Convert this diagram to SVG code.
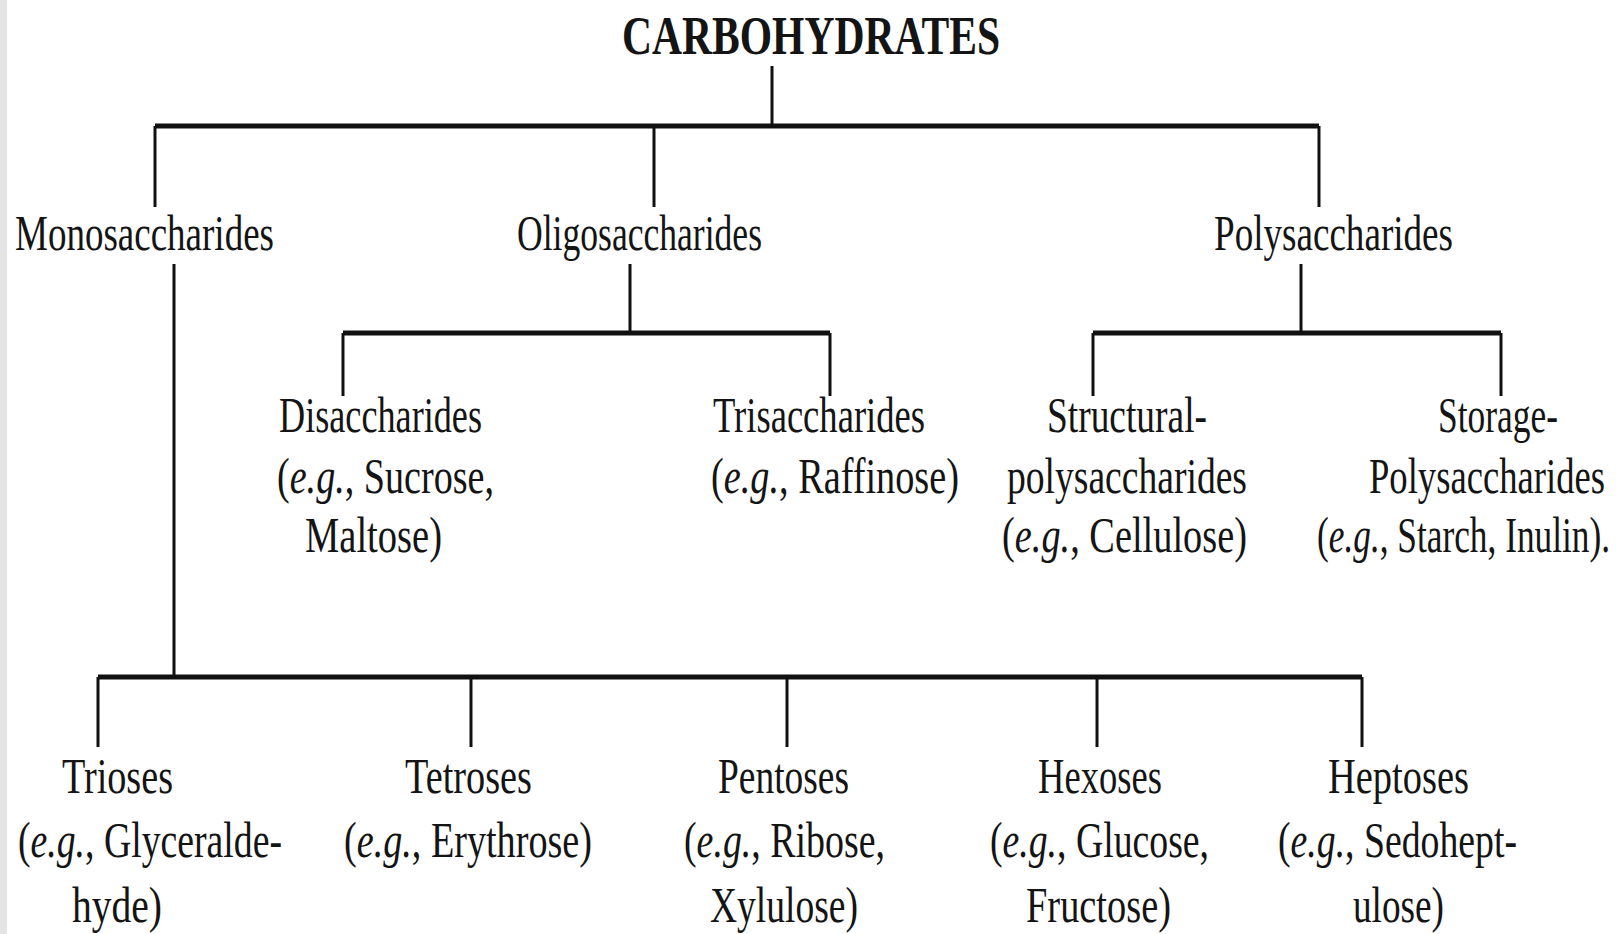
<svg xmlns="http://www.w3.org/2000/svg" width="1620" height="934" viewBox="0 0 1620 934">
<style>
text{font-family:"Liberation Serif","Times New Roman",serif;font-size:50px;fill:#141414}
.title{font-weight:bold;font-size:54px}
.i{font-style:italic}
.bar{stroke:#111;stroke-width:5;fill:none}
.v{stroke:#111;stroke-width:3;fill:none}
</style>
<rect x="0" y="0" width="1620" height="934" fill="#ffffff"/>
<rect x="0" y="0" width="7" height="934" fill="#e4e4e4"/>
<g id="connectors">
<line class="v" x1="772" y1="66" x2="772" y2="126"/>
<line class="bar" x1="155" y1="126" x2="1319" y2="126"/>
<line class="v" x1="155" y1="126" x2="155" y2="207"/>
<line class="v" x1="654" y1="126" x2="654" y2="207"/>
<line class="v" x1="1319" y1="126" x2="1319" y2="207"/>
<line class="v" x1="174" y1="264" x2="174" y2="677"/>
<line class="v" x1="630" y1="264" x2="630" y2="333"/>
<line class="bar" x1="343" y1="333" x2="830" y2="333"/>
<line class="v" x1="343" y1="333" x2="343" y2="396"/>
<line class="v" x1="830" y1="333" x2="830" y2="396"/>
<line class="v" x1="1301" y1="264" x2="1301" y2="333"/>
<line class="bar" x1="1093" y1="333" x2="1501" y2="333"/>
<line class="v" x1="1093" y1="333" x2="1093" y2="396"/>
<line class="v" x1="1501" y1="333" x2="1501" y2="396"/>
<line class="bar" x1="98" y1="677" x2="1362" y2="677"/>
<line class="v" x1="98" y1="677" x2="98" y2="747"/>
<line class="v" x1="471" y1="677" x2="471" y2="747"/>
<line class="v" x1="787" y1="677" x2="787" y2="747"/>
<line class="v" x1="1097" y1="677" x2="1097" y2="747"/>
<line class="v" x1="1362" y1="677" x2="1362" y2="747"/>
</g>
<g id="carbohydrates"><text class="title" x="622" y="54" textLength="378" lengthAdjust="spacingAndGlyphs">CARBOHYDRATES</text></g>
<g id="monosaccharides"><text x="15" y="250" textLength="259" lengthAdjust="spacingAndGlyphs">Monosaccharides</text></g>
<g id="oligosaccharides"><text x="517" y="250" textLength="245" lengthAdjust="spacingAndGlyphs">Oligosaccharides</text></g>
<g id="polysaccharides"><text x="1214" y="250" textLength="239" lengthAdjust="spacingAndGlyphs">Polysaccharides</text></g>
<g id="disaccharides">
<text x="279" y="432" textLength="203" lengthAdjust="spacingAndGlyphs">Disaccharides</text>
<text x="277" y="493" textLength="217" lengthAdjust="spacingAndGlyphs">(<tspan class="i">e.g.</tspan>, Sucrose,</text>
<text x="305" y="552" textLength="137" lengthAdjust="spacingAndGlyphs">Maltose)</text>
</g>
<g id="trisaccharides">
<text x="713" y="432" textLength="212" lengthAdjust="spacingAndGlyphs">Trisaccharides</text>
<text x="711" y="493" textLength="248" lengthAdjust="spacingAndGlyphs">(<tspan class="i">e.g.</tspan>, Raffinose)</text>
</g>
<g id="structural">
<text x="1047" y="432" textLength="160" lengthAdjust="spacingAndGlyphs">Structural-</text>
<text x="1007" y="493" textLength="240" lengthAdjust="spacingAndGlyphs">polysaccharides</text>
<text x="1002" y="552" textLength="245" lengthAdjust="spacingAndGlyphs">(<tspan class="i">e.g.</tspan>, Cellulose)</text>
</g>
<g id="storage">
<text x="1438" y="432" textLength="120" lengthAdjust="spacingAndGlyphs">Storage-</text>
<text x="1369" y="493" textLength="236" lengthAdjust="spacingAndGlyphs">Polysaccharides</text>
<text x="1317" y="552" textLength="293" lengthAdjust="spacingAndGlyphs">(<tspan class="i">e.g.</tspan>, Starch, Inulin).</text>
</g>
<g id="trioses">
<text x="62" y="793" textLength="111" lengthAdjust="spacingAndGlyphs">Trioses</text>
<text x="18" y="857" textLength="264" lengthAdjust="spacingAndGlyphs">(<tspan class="i">e.g.</tspan>, Glyceralde-</text>
<text x="72" y="922" textLength="90" lengthAdjust="spacingAndGlyphs">hyde)</text>
</g>
<g id="tetroses">
<text x="405" y="793" textLength="127" lengthAdjust="spacingAndGlyphs">Tetroses</text>
<text x="344" y="857" textLength="248" lengthAdjust="spacingAndGlyphs">(<tspan class="i">e.g.</tspan>, Erythrose)</text>
</g>
<g id="pentoses">
<text x="718" y="793" textLength="131" lengthAdjust="spacingAndGlyphs">Pentoses</text>
<text x="684" y="857" textLength="201" lengthAdjust="spacingAndGlyphs">(<tspan class="i">e.g.</tspan>, Ribose,</text>
<text x="710" y="922" textLength="148" lengthAdjust="spacingAndGlyphs">Xylulose)</text>
</g>
<g id="hexoses">
<text x="1038" y="793" textLength="124" lengthAdjust="spacingAndGlyphs">Hexoses</text>
<text x="990" y="857" textLength="219" lengthAdjust="spacingAndGlyphs">(<tspan class="i">e.g.</tspan>, Glucose,</text>
<text x="1026" y="922" textLength="145" lengthAdjust="spacingAndGlyphs">Fructose)</text>
</g>
<g id="heptoses">
<text x="1328" y="793" textLength="141" lengthAdjust="spacingAndGlyphs">Heptoses</text>
<text x="1278" y="857" textLength="239" lengthAdjust="spacingAndGlyphs">(<tspan class="i">e.g.</tspan>, Sedohept-</text>
<text x="1353" y="922" textLength="91" lengthAdjust="spacingAndGlyphs">ulose)</text>
</g>
</svg>
